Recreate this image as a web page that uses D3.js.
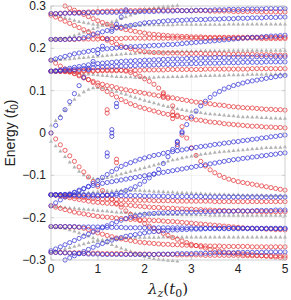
<!DOCTYPE html>
<html>
<head>
<meta charset="utf-8">
<script src="https://cdn.jsdelivr.net/npm/d3@7"></script>
<style>
  body { margin: 0; background: #fff; }
  text { font-family: "Liberation Sans", Arial, sans-serif; fill: #222; }
</style>
</head>
<body>
<script>
'use strict';

// sampling points of lambda_z (t0)
const lambdas = [0,0.1,0.2,0.3,0.4,0.5,0.6,0.7,0.8,0.9,1,
  1.1,1.2,1.3,1.4,1.5,1.6,1.7,1.8,1.9,2,
  2.1,2.2,2.3,2.4,2.5,2.6,2.7,2.8,2.9,3,
  3.1,3.2,3.3,3.4,3.5,3.6,3.7,3.8,3.9,4,
  4.1,4.2,4.3,4.4,4.5,4.6,4.7,4.8,4.9,5];

const xTicks = [0, 1, 2, 3, 4, 5];
const yTicks = [-0.3, -0.2, -0.1, 0, 0.1, 0.2, 0.3];

// energies in units of 0.001 t0 (null = no state shown)
// blue (open circles)
const blueSteep = [0,18,36,55,74,93,112,131,150,169,188,
  205,222,240,257,274,291,308];
const blueTop = [282,282,282,283,283,283,283,284,284,284,284,
  285,285,285,285,286,286,286,286,287,287,
  287,287,288,288,288,288,289,289,289,289,
  290,290,290,290,291,291,291,292,292,292,
  292,293,293,293,293,294,294,294,294,294];
const blueMid1 = [221,221,221,221,222,222,223,225,228,232,236,
  239,242,245,248,250,252,254,256,258,260,
  261,262,263,264,265,265,266,266,267,267,
  268,268,268,269,269,269,270,270,270,271,
  271,271,272,272,272,273,273,273,274,274];
const blueMid2 = [172,175,178,181,184,187,189,191,193,195,197,
  198,199,200,201,202,203,204,204,205,205,
  206,207,207,208,209,209,210,211,212,213,
  214,215,216,217,218,219,220,221,222,223,
  224,225,226,226,227,228,229,229,230,231];
const blueMid3 = [146,147,149,151,153,155,157,159,161,163,164,
  165,166,167,168,169,170,170,171,171,172,
  172,173,173,174,174,175,175,175,176,176,
  176,177,177,177,178,178,178,178,179,179,
  179,179,179,180,180,180,180,180,180,180];
const blueMid4 = [146,146,147,148,149,150,151,152,153,154,155,
  156,156,157,157,158,158,159,159,160,160,
  160,161,161,162,162,162,163,163,163,164,
  164,164,165,165,165,165,166,166,166,166,
  167,167,167,167,167,168,168,168,168,168];
const blueCross = [-146,-146,-146,-146,-147,-147,-148,-148,-149,-149,-149,
  -148,-147,-145,-143,-140,-136,-132,-127,-121,-114,
  -106,-97,-86,-72,-56,-39,-20,0,20,38,
  52,64,75,84,92,98,104,108,112,115,
  118,121,123,125,127,129,131,133,135,136];
const blueLow1 = [-146,-146,-146,-145,-144,-141,-137,-132,-126,-119,-112,
  -105,-98,-91,-85,-79,-74,-70,-66,-62,-59,
  -56,-53,-51,-48,-46,-44,-42,-40,-38,-36,
  -34,-32,-31,-29,-27,-26,-24,-23,-21,-20,
  -18,-17,-15,-14,-12,-11,-9,-8,-6,-5];
const blueLow2 = [-172,-165,-158,-151,-145,-140,-135,-131,-127,-124,-122,
  -119,-117,-115,-113,-111,-109,-107,-105,-103,-101,
  -99,-97,-95,-93,-91,-89,-87,-85,-83,-81,
  -79,-77,-75,-73,-71,-69,-67,-65,-63,-62,
  -60,-59,-57,-56,-54,-53,-51,-50,-48,-47];
const blueLow3 = [-146,-146,-146,-146,-146,-146,-146,-146,-146,-146,-147,
  -147,-147,-147,-147,-148,-148,-148,-148,-148,-149,
  -149,-149,-149,-149,-150,-150,-150,-150,-150,-150,
  -150,-150,-151,-151,-151,-151,-151,-151,-151,-151,
  -151,-151,-151,-151,-151,-151,-151,-151,-151,-151];
const blueLow4 = [-278,-274,-269,-264,-259,-254,-249,-244,-239,-234,-229,
  -224,-219,-214,-210,-206,-202,-199,-196,-194,-192,
  -191,-190,-189,-189,-188,-188,-188,-187,-187,-187,
  -187,-186,-186,-186,-186,-185,-185,-185,-185,-184,
  -184,-184,-184,-183,-183,-183,-183,-182,-182,-182];
const blueLow5 = [-221,-221,-221,-221,-221,-221,-222,-222,-222,-222,-222,
  -222,-223,-223,-223,-223,-224,-224,-224,-224,-224,
  -224,-224,-224,-224,-224,-224,-224,-224,-224,-224,
  -225,-225,-225,-225,-225,-225,-225,-225,-225,-225,
  -225,-225,-225,-225,-225,-225,-225,-225,-225,-225];
const blueLow6 = [-282,-282,-283,-283,-284,-284,-285,-285,-286,-286,-286,
  -287,-287,-287,-287,-287,-287,-287,-287,-287,-287,
  -287,-287,-286,-286,-286,-286,-285,-285,-285,-285,
  -284,-284,-284,-284,-283,-283,-283,-283,-283,-282,
  -282,-282,-282,-282,-282,-281,-281,-281,-281,-281];
const blueLow7 = [null,null,null,-300,-295,-290,-285,-280,-275,-270,-265,
  -261,-257,-253,-250,-247,-244,-242,-240,-238,-236,
  -234,-233,-232,-231,-230,-229,-229,-228,-228,-227,
  -227,-227,-226,-226,-226,-226,-226,-226,-226,-226,
  -226,-226,-226,-226,-226,-226,-226,-226,-226,-226];

// red (open circles)
const redTop = [282,282,283,283,284,284,285,285,286,286,287,
  287,288,288,288,289,289,289,289,290,290,
  290,290,290,290,290,290,290,289,289,289,
  289,289,289,288,288,288,288,288,287,287,
  287,287,287,287,286,286,286,286,286,286];
const redFall1 = [278,274,269,264,259,254,249,244,239,234,229,
  224,219,214,210,206,202,199,196,194,192,
  191,190,190,189,189,189,189,188,188,188,
  188,188,187,187,187,187,187,186,186,186,
  186,186,186,185,185,185,185,184,184,184];
const redFlat1 = [221,221,221,221,221,221,222,222,222,222,222,
  223,223,223,223,223,224,224,224,224,224,
  224,224,224,224,224,224,224,224,224,224,
  224,224,224,224,224,224,224,224,224,224,
  224,224,224,224,223,223,223,223,223,223];
const redFlat2 = [146,146,146,146,146,146,146,146,146,146,147,
  147,147,147,147,148,148,148,148,148,149,
  149,149,149,149,150,150,150,150,150,150,
  150,150,151,151,151,151,151,151,151,151,
  151,151,152,152,152,152,152,152,152,152];
const redFall2 = [172,165,158,151,145,140,135,130,126,122,118,
  115,112,110,107,104,102,100,98,96,94,
  92,90,88,87,85,83,81,79,77,75,
  73,72,70,69,67,66,65,63,62,61,
  60,59,59,58,57,56,56,55,55,54];
const redFall3 = [146,146,146,145,144,141,137,132,126,119,112,
  105,98,91,85,79,74,69,65,61,58,
  55,52,49,46,44,42,39,37,35,33,
  31,30,28,26,25,24,22,21,20,19,
  18,17,16,16,15,14,14,13,13,12];
const redCross = [146,146,146,146,147,147,147,148,148,148,148,
  149,149,149,149,148,146,143,139,134,128,
  122,115,106,95,82,64,42,15,-12,-35,
  -53,-67,-78,-87,-94,-100,-105,-109,-112,-115,
  -117,-119,-121,-123,-125,-127,-129,-131,-133,-135];
const redEnter = [null,null,null,300,295,290,285,280,275,270,265,
  261,257,253,250,247,244,242,240,238,236,
  234,233,232,231,230,229,229,228,228,227,
  227,227,226,226,226,226,226,226,226,226,
  226,226,226,226,226,226,226,226,226,226];
const redSteep = [0,-14,-28,-41,-54,-67,-80,-92,-104,-115,-126,
  -136,-146,-156,-166,-175,-184,-192,-200,-207,-214,
  -220,-226,-232,-237,-242,-247,-251,-255,-259,-263,
  -266,-269,-272,-275,-277,-279,-281,-283,-284,-285,
  -286,-287,-288,-289,-290,-291,-292,-293,-294,-295];
const redLow1 = [-146,-146,-147,-148,-149,-150,-151,-152,-153,-154,-155,
  -156,-156,-157,-157,-158,-158,-158,-159,-159,-159,
  -159,-160,-160,-160,-160,-160,-161,-161,-161,-161,
  -161,-161,-161,-161,-162,-162,-162,-162,-162,-162,
  -162,-162,-162,-162,-162,-162,-162,-162,-162,-162];
const redLow2 = [-146,-147,-149,-151,-153,-155,-157,-159,-161,-163,-164,
  -165,-166,-167,-168,-169,-170,-171,-172,-173,-174,
  -175,-176,-176,-177,-178,-178,-179,-179,-180,-180,
  -181,-181,-182,-182,-183,-183,-183,-184,-184,-184,
  -185,-185,-185,-185,-186,-186,-186,-186,-186,-186];
const redLow3 = [-172,-175,-178,-181,-184,-187,-189,-191,-193,-195,-197,
  -198,-199,-200,-201,-202,-203,-204,-204,-205,-205,
  -206,-207,-207,-208,-209,-209,-210,-211,-212,-213,
  -214,-215,-216,-217,-218,-219,-220,-221,-222,-223,
  -224,-225,-225,-226,-226,-227,-227,-228,-228,-229];
const redLow4 = [-221,-221,-221,-221,-222,-222,-223,-225,-228,-232,-236,
  -239,-242,-245,-248,-250,-252,-254,-256,-258,-259,
  -260,-261,-262,-263,-263,-264,-264,-265,-265,-266,
  -266,-266,-267,-267,-267,-267,-268,-268,-268,-268,
  -268,-268,-269,-269,-269,-269,-269,-269,-269,-269];
const redLow5 = [-282,-282,-282,-283,-283,-283,-283,-284,-284,-284,-284,
  -285,-285,-285,-285,-285,-286,-286,-286,-286,-286,
  -286,-287,-287,-287,-287,-287,-288,-288,-288,-288,
  -288,-288,-289,-289,-289,-289,-289,-289,-289,-289,
  -290,-290,-290,-290,-290,-290,-290,-290,-290,-290];

// gray (filled triangles)
const grayTop = [282,279,276,273,270,267,264,262,260,258,257,
  256,256,255,255,255,255,255,255,255,256,
  256,256,256,256,256,256,257,257,257,257,
  257,257,257,257,257,257,257,258,258,258,
  258,258,258,258,258,258,258,258,258,258];
const grayRise = [221,222,223,225,228,231,235,239,243,247,251,
  255,259,263,267,271,275,279,283,287,291,
  294,296,298,299,300,301,302,303,304,305];
const grayMid = [172,173,174,175,176,177,178,179,180,181,182,
  183,184,185,186,187,188,188,189,190,190,
  191,191,192,192,193,193,193,194,194,194,
  194,195,195,195,195,195,195,196,196,196,
  196,196,196,196,196,196,196,196,196,196];
const grayFlat = [146,146,145,145,144,143,142,141,140,139,138,
  137,136,135,134,134,133,133,132,132,132,
  132,132,133,133,133,134,134,134,135,135,
  135,136,136,136,137,137,137,138,138,138,
  138,139,139,139,139,140,140,140,140,140];
const grayHump = [19,30,42,55,68,80,90,98,104,107,108,
  107,105,102,99,95,92,88,85,81,78,
  75,72,69,66,63,61,58,56,54,52,
  50,49,47,46,45,44,43,42,41,40,
  39,39,38,38,37,37,36,36,35,35];
const grayLowHump = [-19,-30,-42,-55,-68,-80,-90,-98,-104,-107,-108,
  -107,-105,-102,-99,-96,-93,-90,-87,-84,-81,
  -78,-75,-72,-69,-66,-63,-61,-58,-56,-54,
  -52,-50,-48,-47,-45,-44,-43,-42,-41,-40,
  -39,-38,-37,-36,-35,-34,-34,-33,-33,-32];
const grayLowFlat = [-146,-146,-145,-145,-144,-143,-142,-141,-140,-139,-138,
  -137,-136,-136,-135,-135,-135,-135,-135,-135,-136,
  -136,-137,-137,-138,-139,-139,-140,-140,-141,-141,
  -142,-142,-143,-143,-144,-144,-144,-145,-145,-145,
  -146,-146,-146,-146,-146,-147,-147,-147,-147,-147];
const grayLowMid = [-172,-173,-174,-175,-176,-177,-178,-179,-180,-181,-182,
  -183,-184,-185,-186,-187,-187,-188,-189,-189,-190,
  -190,-191,-191,-191,-192,-192,-192,-193,-193,-193,
  -193,-193,-193,-194,-194,-194,-194,-194,-194,-194,
  -194,-194,-194,-194,-194,-194,-194,-194,-194,-194];
const grayLowTop = [-282,-279,-276,-273,-270,-267,-264,-261,-258,-256,-254,
  -252,-251,-250,-249,-248,-247,-247,-246,-246,-246,
  -246,-246,-246,-245,-245,-245,-245,-245,-245,-245,
  -245,-245,-245,-245,-245,-245,-245,-245,-245,-245,
  -245,-245,-245,-245,-245,-245,-245,-245,-245,-245];
const grayFall = [-221,-222,-223,-225,-228,-231,-235,-239,-243,-247,-251,
  -255,-259,-263,-267,-271,-275,-279,-283,-287,-291,
  -294,-296,-298,-299,-300,-301,-302,-303,-304,-305];

// isolated states: [lambda, energy*1000]
const blueSingles = [[1.2,-47],[1.2,-55],[1.3,8],[1.3,0],[1.3,-8],[1.4,70],[1.4,62],
  [2.7,-22],[2.7,-32],[2.8,3]];
const redSingles = [[1.2,55],[1.2,47],[1.4,-62],[1.4,-70],[2.4,92],[2.4,84],
  [2.6,50],[2.6,42],[2.6,34],[2.7,-27],[2.8,-5]];

const blueBands = [blueSteep, blueTop, blueMid1, blueMid2, blueMid3, blueMid4, blueCross,
  blueLow1, blueLow2, blueLow3, blueLow4, blueLow5, blueLow6, blueLow7];
const redBands = [redTop, redFall1, redFlat1, redFlat2, redFall2, redFall3, redCross, redEnter,
  redSteep, redLow1, redLow2, redLow3, redLow4, redLow5];
const grayBands = [grayTop, grayRise, grayMid, grayFlat, grayHump,
  grayLowHump, grayLowFlat, grayLowMid, grayLowTop, grayFall];

const W = 291, H = 300;
const x = d3.scaleLinear().domain([0, 5]).range([51, 285]);
const y = d3.scaleLinear().domain([-0.3, 0.3]).range([260, 6]);

const svg = d3.select('body').append('svg')
  .attr('width', W)
  .attr('height', H);

svg.append('rect').attr('width', W).attr('height', H).attr('fill', '#fff');

// grid
const grid = svg.append('g').attr('stroke', '#ebebeb').attr('stroke-width', 0.7);
grid.selectAll('.gx').data(xTicks.slice(1, -1)).join('line')
  .attr('x1', d => x(d)).attr('x2', d => x(d))
  .attr('y1', y(-0.3)).attr('y2', y(0.3));
grid.selectAll('.gy').data(yTicks.slice(1, -1)).join('line')
  .attr('x1', x(0)).attr('x2', x(5))
  .attr('y1', d => y(d)).attr('y2', d => y(d));

const toPoints = bands => bands.flatMap(b => b.map((v, i) => ({lam: lambdas[i], e: v === null ? null : v / 1000})))
  .filter(d => d.e !== null && d.e <= 0.302 && d.e >= -0.302);

const grayPts = toPoints(grayBands);
const redPts = toPoints(redBands).concat(redSingles.map(d => ({lam: d[0], e: d[1] / 1000})));
const bluePts = toPoints(blueBands).concat(blueSingles.map(d => ({lam: d[0], e: d[1] / 1000})));

const tri = d3.symbol().type(d3.symbolTriangle).size(7);
svg.append('g').selectAll('path').data(grayPts).join('path')
  .attr('d', tri)
  .attr('transform', d => `translate(${x(d.lam)},${y(d.e) + 0.5})`)
  .attr('fill', '#b3b3b3');

svg.append('g').selectAll('circle').data(redPts).join('circle')
  .attr('cx', d => x(d.lam))
  .attr('cy', d => y(d.e))
  .attr('r', 2.1)
  .attr('fill', 'none')
  .attr('stroke', '#e5383b')
  .attr('stroke-width', 0.75);

svg.append('g').selectAll('circle').data(bluePts).join('circle')
  .attr('cx', d => x(d.lam))
  .attr('cy', d => y(d.e))
  .attr('r', 2.1)
  .attr('fill', 'none')
  .attr('stroke', '#3535d8')
  .attr('stroke-width', 0.75);

// box and ticks
svg.append('rect')
  .attr('x', x(0)).attr('y', y(0.3))
  .attr('width', x(5) - x(0)).attr('height', y(-0.3) - y(0.3))
  .attr('fill', 'none').attr('stroke', '#c4c4c4').attr('stroke-width', 0.8);

const ticks = svg.append('g').attr('stroke', '#c4c4c4').attr('stroke-width', 0.8);
xTicks.forEach(t => {
  ticks.append('line').attr('x1', x(t)).attr('x2', x(t)).attr('y1', y(-0.3)).attr('y2', y(-0.3) - 3);
  ticks.append('line').attr('x1', x(t)).attr('x2', x(t)).attr('y1', y(0.3)).attr('y2', y(0.3) + 3);
});
yTicks.forEach(t => {
  ticks.append('line').attr('x1', x(0)).attr('x2', x(0) + 3).attr('y1', y(t)).attr('y2', y(t));
  ticks.append('line').attr('x1', x(5)).attr('x2', x(5) - 3).attr('y1', y(t)).attr('y2', y(t));
});

svg.append('g').selectAll('text').data(xTicks).join('text')
  .attr('x', d => x(d))
  .attr('y', 273)
  .attr('text-anchor', 'middle')
  .attr('font-size', 12)
  .text(d => d);

svg.append('g').selectAll('text').data(yTicks).join('text')
  .attr('x', 46)
  .attr('y', d => y(d) + 4)
  .attr('text-anchor', 'end')
  .attr('font-size', 12)
  .text(d => d === 0 ? '0' : d3.format('.1f')(d));

// axis titles
const yl = svg.append('text')
  .attr('transform', 'translate(15,133) rotate(-90)')
  .attr('text-anchor', 'middle')
  .attr('font-size', 14);
yl.append('tspan').text('Energy (');
yl.append('tspan').attr('font-style', 'italic').text('t');
yl.append('tspan').attr('font-size', 10).attr('dy', 3).text('0');
yl.append('tspan').attr('dy', -3).text(')');

const xl = svg.append('text')
  .attr('x', x(2.5))
  .attr('y', 294)
  .attr('text-anchor', 'middle')
  .attr('font-size', 15)
  .style('font-family', '"DejaVu Serif", "Liberation Serif", serif');
xl.append('tspan').attr('font-style', 'italic').text('λ');
xl.append('tspan').attr('font-style', 'italic').attr('font-size', 11).attr('dy', 3).text('z');
xl.append('tspan').attr('dy', -3).text('(');
xl.append('tspan').attr('font-style', 'italic').text('t');
xl.append('tspan').attr('font-size', 11).attr('dy', 3).text('0');
xl.append('tspan').attr('dy', -3).text(')');
</script>
</body>
</html>
